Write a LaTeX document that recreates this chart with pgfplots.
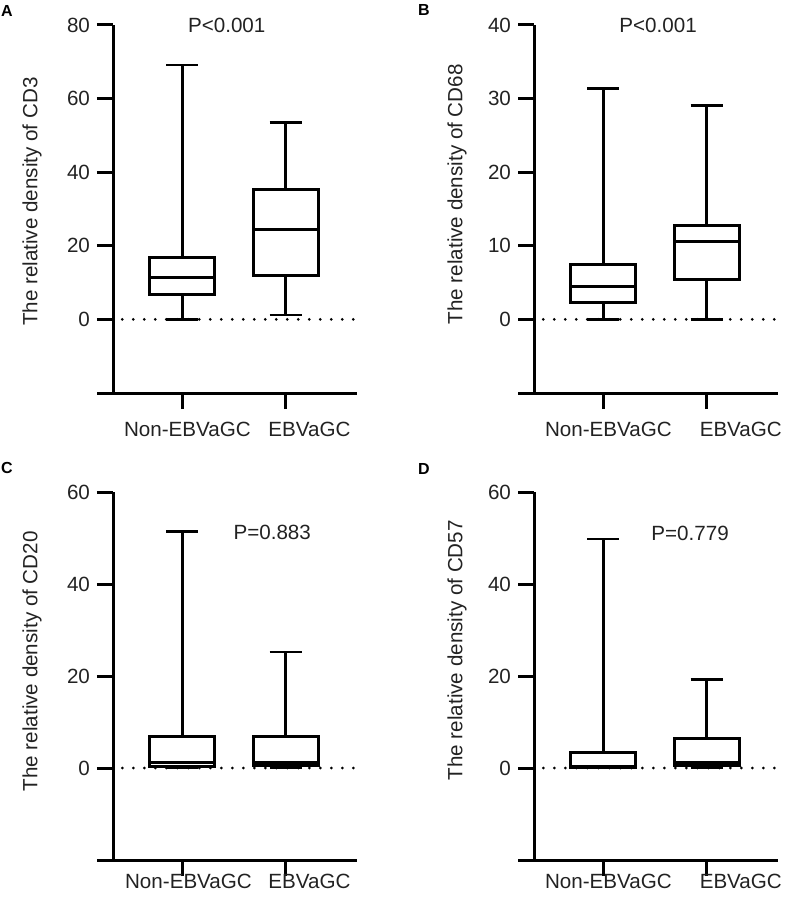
\documentclass[border=0pt]{standalone}
\usepackage{fontspec}
\setmainfont{Liberation Sans}
\usepackage{pgfplots}
\pgfplotsset{compat=1.18}
\usepgfplotslibrary{statistics}
\definecolor{txt}{HTML}{222222}
\newcommand{\lbl}{\fontsize{10.3}{12}\selectfont}
\newcommand{\pnl}{\fontsize{8}{9}\selectfont\bfseries}
\tikzset{cat/.style={font=\lbl, text=txt, anchor=base, yshift=#1}, cat/.default=-21.5pt}
\pgfplotsset{
  panel/.style={
    scale only axis, width=122pt, height=184pt,
    axis lines=left, axis line style={-, line width=1.5pt},
    x axis line style={shorten <=-8pt},
    tick align=outside, major tick length=8pt,
    every tick/.style={black, line width=1.5pt},
    xmin=0.33, xmax=2.69, xtick={1,2}, xticklabels={},
    tick label style={font=\lbl, text=txt},
    /pgf/number format/assume math mode=true,
    ylabel style={font=\lbl, text=txt, anchor=center},
    clip=false,
  },
  bx/.style={black, line width=1.5pt, solid,
    boxplot/draw direction=y,
    boxplot/every median/.style={line width=1.5pt},
    boxplot/every box/.style={line width=1.5pt},
    boxplot/every whisker/.style={line width=1.4pt},
    boxplot/box extend=0.63, boxplot/whisker extend=0.31},
}
\begin{document}
\begin{tikzpicture}
\path[use as bounding box] (0,0) rectangle (394pt,-451.5pt);

% A
\node[font=\pnl] at (3.5pt,-5.5pt) {A};
\begin{axis}[panel, at={(56.5pt,-196.5pt)}, anchor=south west,
  ymin=-20, ymax=80, ytick={0,20,40,60,80},
  ylabel={The relative density of CD3},
  ylabel style={at={(axis description cs:-0.332,0.52)}}]
  \draw[line width=1.5pt, dash pattern=on 0pt off 5.5pt, line cap=round] (axis cs:0.42,0) -- (axis cs:2.67,0);
  \addplot[bx, boxplot prepared={draw position=1, lower whisker=0, lower quartile=6.9,
    median=11.3, upper quartile=16.8, upper whisker=69.1}] coordinates {};
  \addplot[bx, boxplot prepared={draw position=2, lower whisker=1.2, lower quartile=11.8,
    median=24.3, upper quartile=35.4, upper whisker=53.4}] coordinates {};
  \node[font=\lbl, text=txt] at (axis cs:1.43,80) {P<0.001};
  \node[cat] at (axis cs:1.05,-20) {Non-EBVaGC};
  \node[cat] at (axis cs:2.23,-20) {EBVaGC};
\end{axis}

% B
\node[font=\pnl] at (212pt,-5pt) {B};
\begin{axis}[panel, at={(267pt,-196.5pt)}, anchor=south west,
  ymin=-10, ymax=40, ytick={0,10,20,30,40},
  ylabel={The relative density of CD68},
  ylabel style={at={(axis description cs:-0.315,0.54)}}]
  \draw[line width=1.5pt, dash pattern=on 0pt off 5.5pt, line cap=round] (axis cs:0.42,0) -- (axis cs:2.67,0);
  \addplot[bx, boxplot prepared={draw position=1, lower whisker=0, lower quartile=2.3,
    median=4.5, upper quartile=7.4, upper whisker=31.4}] coordinates {};
  \addplot[bx, boxplot prepared={draw position=2, lower whisker=0, lower quartile=5.4,
    median=10.55, upper quartile=12.8, upper whisker=29.1}] coordinates {};
  \node[font=\lbl, text=txt] at (axis cs:1.53,40) {P<0.001};
  \node[cat] at (axis cs:1.05,-10) {Non-EBVaGC};
  \node[cat] at (axis cs:2.33,-10) {EBVaGC};
\end{axis}

% C
\node[font=\pnl] at (3.5pt,-234pt) {C};
\begin{axis}[panel, at={(56.5pt,-430pt)}, anchor=south west,
  ymin=-20, ymax=60, ytick={0,20,40,60},
  ylabel={The relative density of CD20},
  ylabel style={at={(axis description cs:-0.332,0.54)}}]
  \draw[line width=1.5pt, dash pattern=on 0pt off 5.5pt, line cap=round] (axis cs:0.42,0) -- (axis cs:2.67,0);
  \addplot[bx, boxplot prepared={draw position=1, lower whisker=0, lower quartile=0.3,
    median=1.2, upper quartile=6.8, upper whisker=51.5}] coordinates {};
  \addplot[bx, boxplot prepared={draw position=2, lower whisker=0, lower quartile=0.5,
    median=1.1, upper quartile=6.8, upper whisker=25.2}] coordinates {};
  \node[font=\lbl, text=txt] at (axis cs:1.87,51.3) {P=0.883};
  \node[cat=-14pt] at (axis cs:1.06,-20) {Non-EBVaGC};
  \node[cat=-14pt] at (axis cs:2.23,-20) {EBVaGC};
\end{axis}

% D
\node[font=\pnl] at (212pt,-234.5pt) {D};
\begin{axis}[panel, at={(267pt,-430pt)}, anchor=south west,
  ymin=-20, ymax=60, ytick={0,20,40,60},
  ylabel={The relative density of CD57},
  ylabel style={at={(axis description cs:-0.315,0.57)}}]
  \draw[line width=1.5pt, dash pattern=on 0pt off 5.5pt, line cap=round] (axis cs:0.42,0) -- (axis cs:2.67,0);
  \addplot[bx, boxplot prepared={draw position=1, lower whisker=0, lower quartile=0.1,
    median=0.4, upper quartile=3.3, upper whisker=49.8}] coordinates {};
  \addplot[bx, boxplot prepared={draw position=2, lower whisker=0, lower quartile=0.5,
    median=1.1, upper quartile=6.5, upper whisker=19.3}] coordinates {};
  \node[font=\lbl, text=txt] at (axis cs:1.84,51.1) {P=0.779};
  \node[cat=-14pt] at (axis cs:1.05,-20) {Non-EBVaGC};
  \node[cat=-14pt] at (axis cs:2.33,-20) {EBVaGC};
\end{axis}
\end{tikzpicture}
\end{document}
